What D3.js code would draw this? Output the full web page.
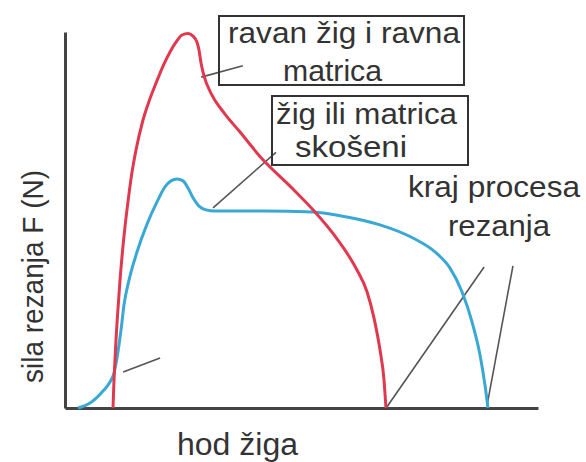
<!DOCTYPE html>
<html>
<head>
<meta charset="utf-8">
<script src="https://cdn.jsdelivr.net/npm/d3@7/dist/d3.min.js"></script>
<style>
  html, body { margin: 0; padding: 0; background: #fff; }
  svg { display: block; }
  text { font-family: "Liberation Sans", Arial, sans-serif; fill: #333; }
</style>
</head>
<body>
<svg id="chart" width="586" height="462"></svg>
<script>
// Punch stroke (0–100) vs. cutting force (0–100), relative units
const flatStroke = [10.15, 10.32, 10.49, 10.78, 11.08, 11.63, 12.18, 12.73, 13.36, 14.08, 15.01, 16.49, 17.86, 19.24, 20.82, 22.20, 23.47, 24.74, 26.00, 27.06, 27.91, 28.33, 28.75, 29.39, 31.08, 33.62, 37.00, 41.86, 47.57, 52.43, 57.51, 59.62, 61.73, 63.85, 65.33, 66.60, 67.44, 67.86];
const flatForce  = [0, 6.1, 10.9, 18.1, 24.2, 34.0, 42.0, 48.7, 55.3, 62.0, 68.6, 76.6, 81.9, 86.4, 91.2, 94.7, 97.3, 99.2, 99.6, 98.9, 97.3, 95.2, 91.8, 88.3, 83.2, 78.5, 73.4, 66.0, 59.0, 52.7, 45.0, 41.2, 36.7, 30.9, 23.9, 15.4, 7.5, 0];

const bevelStroke = [2.75, 5.29, 8.03, 9.51, 10.36, 10.99, 11.42, 11.84, 12.47, 13.53, 15.22, 17.34, 19.45, 21.14, 22.41, 23.68, 24.95, 26.00, 27.06, 28.33, 29.81, 31.71, 41.86, 52.43, 59.62, 66.60, 73.57, 78.22, 81.40, 83.93, 86.05, 87.74, 88.79, 89.43];
const bevelForce  = [0, 1.3, 4.5, 6.9, 9.3, 13.3, 16.8, 20.7, 27.4, 34.0, 41.5, 48.9, 54.8, 58.8, 60.4, 60.9, 60.4, 58.5, 55.9, 53.7, 52.7, 52.4, 52.4, 52.1, 50.8, 48.7, 45.2, 41.5, 37.2, 30.9, 22.9, 14.1, 6.1, 0];

// Callout texts and leader lines (leader ends in data units)
const calloutFlat  = ["ravan žig i ravna", "matrica"];
const calloutBevel = ["žig ili matrica", "skošeni"];
const calloutEnd   = ["kraj procesa", "rezanja"];
const axisTitleX = "hod žiga";
const axisTitleY = "sila rezanja F (N)";

const leaders = [
  [[28.8, 88.0], [37.6, 91.0]],
  [[31.3, 53.2], [44.6, 68.0]],
  [[12.3, 9.6], [20.1, 13.3]],
  [[67.9, 0], [88.6, 37.5]],
  [[89.2, 0.5], [94.7, 37.8]]
];

const svg = d3.select("#chart");
const x = d3.scaleLinear().domain([0, 100]).range([65, 538]);
const y = d3.scaleLinear().domain([0, 100]).range([408, 32]);

// Axes: plain lines, no ticks
const xAxis = svg.append("g").attr("transform", `translate(0,${y(0)})`)
  .call(d3.axisBottom(x).ticks(0).tickSizeOuter(0));
const yAxis = svg.append("g").attr("transform", `translate(${x(0)},0)`)
  .call(d3.axisLeft(y).ticks(0).tickSizeOuter(0));
[xAxis, yAxis].forEach(g => g.select(".domain")
  .attr("stroke", "#444").attr("stroke-width", 3));

const line = d3.line()
  .x(d => x(d[0])).y(d => y(d[1]))
  .curve(d3.curveMonotoneX);

// Leader lines
svg.append("g").selectAll("line").data(leaders).join("line")
  .attr("x1", d => x(d[0][0])).attr("y1", d => y(d[0][1]))
  .attr("x2", d => x(d[1][0])).attr("y2", d => y(d[1][1]))
  .attr("stroke", "#555").attr("stroke-width", 1.6);

// Force curves
svg.append("path")
  .datum(bevelStroke.map((s, i) => [s, bevelForce[i]]))
  .attr("d", line).attr("fill", "none")
  .attr("stroke", "#3aa8d4").attr("stroke-width", 3)
  .attr("stroke-linejoin", "round");
svg.append("path")
  .datum(flatStroke.map((s, i) => [s, flatForce[i]]))
  .attr("d", line).attr("fill", "none")
  .attr("stroke", "#e0384f").attr("stroke-width", 3)
  .attr("stroke-linejoin", "round");

// Callout boxes
svg.append("rect").attr("x", 219).attr("y", 16).attr("width", 245).attr("height", 69)
  .attr("fill", "none").attr("stroke", "#333").attr("stroke-width", 2);
svg.append("rect").attr("x", 272).attr("y", 96).attr("width", 196).attr("height", 69)
  .attr("fill", "none").attr("stroke", "#333").attr("stroke-width", 2);

function label(t, px, py, w, size) {
  svg.append("text").attr("x", px).attr("y", py)
    .attr("font-size", size)
    .attr("textLength", w).attr("lengthAdjust", "spacingAndGlyphs")
    .text(t);
}
label(calloutFlat[0], 228, 43, 232, 30);
label(calloutFlat[1], 283, 81, 99, 30);
label(calloutBevel[0], 276, 124, 181, 30);
label(calloutBevel[1], 295, 157, 112, 30);
label(calloutEnd[0], 408, 197, 172, 30);
label(calloutEnd[1], 448, 236, 102, 30);
label(axisTitleX, 177, 455, 121, 31);

svg.append("text")
  .attr("transform", "translate(43,383) rotate(-90)")
  .attr("font-size", 29)
  .attr("textLength", 213).attr("lengthAdjust", "spacingAndGlyphs")
  .text(axisTitleY);
</script>
</body>
</html>
